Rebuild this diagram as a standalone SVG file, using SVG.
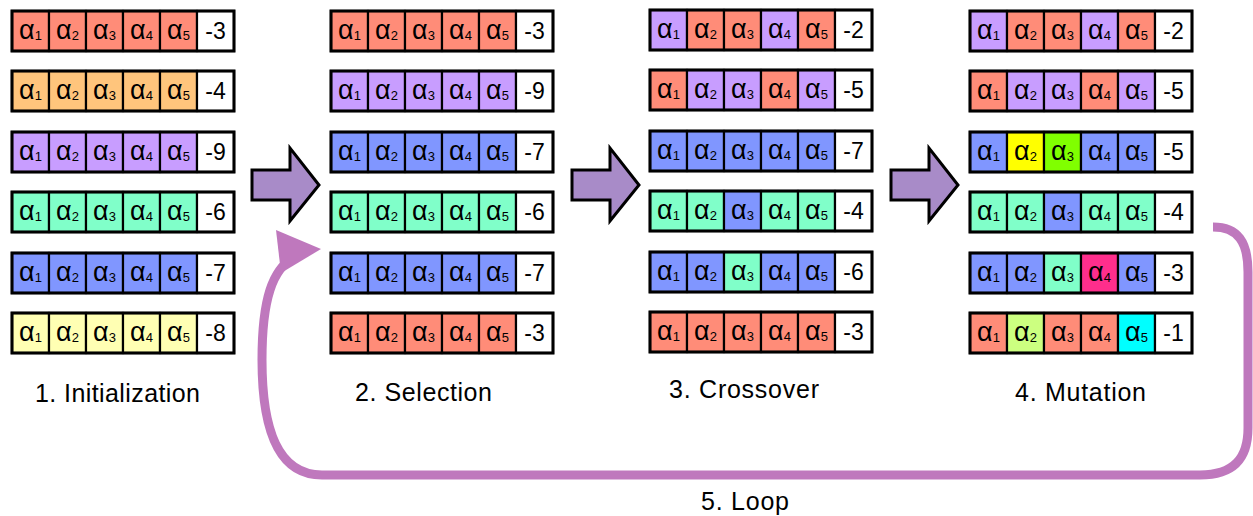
<svg xmlns="http://www.w3.org/2000/svg" width="1253" height="516" viewBox="0 0 1253 516">
<style>
.k{stroke:#000;stroke-width:2.2}
.f{fill:none;stroke:#000;stroke-width:3}
.s{fill:#FF8C78}.o{fill:#FFC57C}.p{fill:#C89DFF}.g{fill:#80FFC9}.bl{fill:#8096FF}.y{fill:#FFFFB3}.w{fill:#FFFFFF}
.m1{fill:#FFFF00}.m2{fill:#80FF00}.m3{fill:#FF2E8C}.m4{fill:#CCFF80}.m5{fill:#00FFFF}
text{font-family:"Liberation Sans",Arial,sans-serif;fill:#000}
.a{font-size:27px;text-anchor:middle}
.b{font-size:13px}
.n{font-size:23px;text-anchor:middle}
.lbl{font-size:25px;text-anchor:middle}
.blk{fill:#A88BC8;stroke:#000;stroke-width:3;stroke-linejoin:miter}
.loop{fill:none;stroke:#BF78BD;stroke-width:9}
.head{fill:#BF78BD}
</style>

<!-- Column 1 -->
<g id="c1r1" transform="translate(12,11)">
<rect class="k s" x="0" y="0" width="37" height="40"/><rect class="k s" x="37" y="0" width="37" height="40"/><rect class="k s" x="74" y="0" width="37" height="40"/><rect class="k s" x="111" y="0" width="37" height="40"/><rect class="k s" x="148" y="0" width="37" height="40"/><rect class="k w" x="185" y="0" width="37" height="40"/><rect class="f" x="0" y="0" width="222" height="40"/>
<text class="a" x="18.5" y="27.5">α<tspan class="b" dy="1">1</tspan></text><text class="a" x="55.5" y="27.5">α<tspan class="b" dy="1">2</tspan></text><text class="a" x="92.5" y="27.5">α<tspan class="b" dy="1">3</tspan></text><text class="a" x="129.5" y="27.5">α<tspan class="b" dy="1">4</tspan></text><text class="a" x="166.5" y="27.5">α<tspan class="b" dy="1">5</tspan></text><text class="n" x="203.5" y="28">-3</text>
</g>
<g id="c1r2" transform="translate(12,71)">
<rect class="k o" x="0" y="0" width="37" height="40"/><rect class="k o" x="37" y="0" width="37" height="40"/><rect class="k o" x="74" y="0" width="37" height="40"/><rect class="k o" x="111" y="0" width="37" height="40"/><rect class="k o" x="148" y="0" width="37" height="40"/><rect class="k w" x="185" y="0" width="37" height="40"/><rect class="f" x="0" y="0" width="222" height="40"/>
<text class="a" x="18.5" y="27.5">α<tspan class="b" dy="1">1</tspan></text><text class="a" x="55.5" y="27.5">α<tspan class="b" dy="1">2</tspan></text><text class="a" x="92.5" y="27.5">α<tspan class="b" dy="1">3</tspan></text><text class="a" x="129.5" y="27.5">α<tspan class="b" dy="1">4</tspan></text><text class="a" x="166.5" y="27.5">α<tspan class="b" dy="1">5</tspan></text><text class="n" x="203.5" y="28">-4</text>
</g>
<g id="c1r3" transform="translate(12,132)">
<rect class="k p" x="0" y="0" width="37" height="40"/><rect class="k p" x="37" y="0" width="37" height="40"/><rect class="k p" x="74" y="0" width="37" height="40"/><rect class="k p" x="111" y="0" width="37" height="40"/><rect class="k p" x="148" y="0" width="37" height="40"/><rect class="k w" x="185" y="0" width="37" height="40"/><rect class="f" x="0" y="0" width="222" height="40"/>
<text class="a" x="18.5" y="27.5">α<tspan class="b" dy="1">1</tspan></text><text class="a" x="55.5" y="27.5">α<tspan class="b" dy="1">2</tspan></text><text class="a" x="92.5" y="27.5">α<tspan class="b" dy="1">3</tspan></text><text class="a" x="129.5" y="27.5">α<tspan class="b" dy="1">4</tspan></text><text class="a" x="166.5" y="27.5">α<tspan class="b" dy="1">5</tspan></text><text class="n" x="203.5" y="28">-9</text>
</g>
<g id="c1r4" transform="translate(12,192)">
<rect class="k g" x="0" y="0" width="37" height="40"/><rect class="k g" x="37" y="0" width="37" height="40"/><rect class="k g" x="74" y="0" width="37" height="40"/><rect class="k g" x="111" y="0" width="37" height="40"/><rect class="k g" x="148" y="0" width="37" height="40"/><rect class="k w" x="185" y="0" width="37" height="40"/><rect class="f" x="0" y="0" width="222" height="40"/>
<text class="a" x="18.5" y="27.5">α<tspan class="b" dy="1">1</tspan></text><text class="a" x="55.5" y="27.5">α<tspan class="b" dy="1">2</tspan></text><text class="a" x="92.5" y="27.5">α<tspan class="b" dy="1">3</tspan></text><text class="a" x="129.5" y="27.5">α<tspan class="b" dy="1">4</tspan></text><text class="a" x="166.5" y="27.5">α<tspan class="b" dy="1">5</tspan></text><text class="n" x="203.5" y="28">-6</text>
</g>
<g id="c1r5" transform="translate(12,253)">
<rect class="k bl" x="0" y="0" width="37" height="40"/><rect class="k bl" x="37" y="0" width="37" height="40"/><rect class="k bl" x="74" y="0" width="37" height="40"/><rect class="k bl" x="111" y="0" width="37" height="40"/><rect class="k bl" x="148" y="0" width="37" height="40"/><rect class="k w" x="185" y="0" width="37" height="40"/><rect class="f" x="0" y="0" width="222" height="40"/>
<text class="a" x="18.5" y="27.5">α<tspan class="b" dy="1">1</tspan></text><text class="a" x="55.5" y="27.5">α<tspan class="b" dy="1">2</tspan></text><text class="a" x="92.5" y="27.5">α<tspan class="b" dy="1">3</tspan></text><text class="a" x="129.5" y="27.5">α<tspan class="b" dy="1">4</tspan></text><text class="a" x="166.5" y="27.5">α<tspan class="b" dy="1">5</tspan></text><text class="n" x="203.5" y="28">-7</text>
</g>
<g id="c1r6" transform="translate(12,313)">
<rect class="k y" x="0" y="0" width="37" height="40"/><rect class="k y" x="37" y="0" width="37" height="40"/><rect class="k y" x="74" y="0" width="37" height="40"/><rect class="k y" x="111" y="0" width="37" height="40"/><rect class="k y" x="148" y="0" width="37" height="40"/><rect class="k w" x="185" y="0" width="37" height="40"/><rect class="f" x="0" y="0" width="222" height="40"/>
<text class="a" x="18.5" y="27.5">α<tspan class="b" dy="1">1</tspan></text><text class="a" x="55.5" y="27.5">α<tspan class="b" dy="1">2</tspan></text><text class="a" x="92.5" y="27.5">α<tspan class="b" dy="1">3</tspan></text><text class="a" x="129.5" y="27.5">α<tspan class="b" dy="1">4</tspan></text><text class="a" x="166.5" y="27.5">α<tspan class="b" dy="1">5</tspan></text><text class="n" x="203.5" y="28">-8</text>
</g>

<!-- Column 2 -->
<g id="c2r1" transform="translate(331,11)">
<rect class="k s" x="0" y="0" width="37" height="40"/><rect class="k s" x="37" y="0" width="37" height="40"/><rect class="k s" x="74" y="0" width="37" height="40"/><rect class="k s" x="111" y="0" width="37" height="40"/><rect class="k s" x="148" y="0" width="37" height="40"/><rect class="k w" x="185" y="0" width="37" height="40"/><rect class="f" x="0" y="0" width="222" height="40"/>
<text class="a" x="18.5" y="27.5">α<tspan class="b" dy="1">1</tspan></text><text class="a" x="55.5" y="27.5">α<tspan class="b" dy="1">2</tspan></text><text class="a" x="92.5" y="27.5">α<tspan class="b" dy="1">3</tspan></text><text class="a" x="129.5" y="27.5">α<tspan class="b" dy="1">4</tspan></text><text class="a" x="166.5" y="27.5">α<tspan class="b" dy="1">5</tspan></text><text class="n" x="203.5" y="28">-3</text>
</g>
<g id="c2r2" transform="translate(331,71)">
<rect class="k p" x="0" y="0" width="37" height="40"/><rect class="k p" x="37" y="0" width="37" height="40"/><rect class="k p" x="74" y="0" width="37" height="40"/><rect class="k p" x="111" y="0" width="37" height="40"/><rect class="k p" x="148" y="0" width="37" height="40"/><rect class="k w" x="185" y="0" width="37" height="40"/><rect class="f" x="0" y="0" width="222" height="40"/>
<text class="a" x="18.5" y="27.5">α<tspan class="b" dy="1">1</tspan></text><text class="a" x="55.5" y="27.5">α<tspan class="b" dy="1">2</tspan></text><text class="a" x="92.5" y="27.5">α<tspan class="b" dy="1">3</tspan></text><text class="a" x="129.5" y="27.5">α<tspan class="b" dy="1">4</tspan></text><text class="a" x="166.5" y="27.5">α<tspan class="b" dy="1">5</tspan></text><text class="n" x="203.5" y="28">-9</text>
</g>
<g id="c2r3" transform="translate(331,132)">
<rect class="k bl" x="0" y="0" width="37" height="40"/><rect class="k bl" x="37" y="0" width="37" height="40"/><rect class="k bl" x="74" y="0" width="37" height="40"/><rect class="k bl" x="111" y="0" width="37" height="40"/><rect class="k bl" x="148" y="0" width="37" height="40"/><rect class="k w" x="185" y="0" width="37" height="40"/><rect class="f" x="0" y="0" width="222" height="40"/>
<text class="a" x="18.5" y="27.5">α<tspan class="b" dy="1">1</tspan></text><text class="a" x="55.5" y="27.5">α<tspan class="b" dy="1">2</tspan></text><text class="a" x="92.5" y="27.5">α<tspan class="b" dy="1">3</tspan></text><text class="a" x="129.5" y="27.5">α<tspan class="b" dy="1">4</tspan></text><text class="a" x="166.5" y="27.5">α<tspan class="b" dy="1">5</tspan></text><text class="n" x="203.5" y="28">-7</text>
</g>
<g id="c2r4" transform="translate(331,192)">
<rect class="k g" x="0" y="0" width="37" height="40"/><rect class="k g" x="37" y="0" width="37" height="40"/><rect class="k g" x="74" y="0" width="37" height="40"/><rect class="k g" x="111" y="0" width="37" height="40"/><rect class="k g" x="148" y="0" width="37" height="40"/><rect class="k w" x="185" y="0" width="37" height="40"/><rect class="f" x="0" y="0" width="222" height="40"/>
<text class="a" x="18.5" y="27.5">α<tspan class="b" dy="1">1</tspan></text><text class="a" x="55.5" y="27.5">α<tspan class="b" dy="1">2</tspan></text><text class="a" x="92.5" y="27.5">α<tspan class="b" dy="1">3</tspan></text><text class="a" x="129.5" y="27.5">α<tspan class="b" dy="1">4</tspan></text><text class="a" x="166.5" y="27.5">α<tspan class="b" dy="1">5</tspan></text><text class="n" x="203.5" y="28">-6</text>
</g>
<g id="c2r5" transform="translate(331,253)">
<rect class="k bl" x="0" y="0" width="37" height="40"/><rect class="k bl" x="37" y="0" width="37" height="40"/><rect class="k bl" x="74" y="0" width="37" height="40"/><rect class="k bl" x="111" y="0" width="37" height="40"/><rect class="k bl" x="148" y="0" width="37" height="40"/><rect class="k w" x="185" y="0" width="37" height="40"/><rect class="f" x="0" y="0" width="222" height="40"/>
<text class="a" x="18.5" y="27.5">α<tspan class="b" dy="1">1</tspan></text><text class="a" x="55.5" y="27.5">α<tspan class="b" dy="1">2</tspan></text><text class="a" x="92.5" y="27.5">α<tspan class="b" dy="1">3</tspan></text><text class="a" x="129.5" y="27.5">α<tspan class="b" dy="1">4</tspan></text><text class="a" x="166.5" y="27.5">α<tspan class="b" dy="1">5</tspan></text><text class="n" x="203.5" y="28">-7</text>
</g>
<g id="c2r6" transform="translate(331,313)">
<rect class="k s" x="0" y="0" width="37" height="40"/><rect class="k s" x="37" y="0" width="37" height="40"/><rect class="k s" x="74" y="0" width="37" height="40"/><rect class="k s" x="111" y="0" width="37" height="40"/><rect class="k s" x="148" y="0" width="37" height="40"/><rect class="k w" x="185" y="0" width="37" height="40"/><rect class="f" x="0" y="0" width="222" height="40"/>
<text class="a" x="18.5" y="27.5">α<tspan class="b" dy="1">1</tspan></text><text class="a" x="55.5" y="27.5">α<tspan class="b" dy="1">2</tspan></text><text class="a" x="92.5" y="27.5">α<tspan class="b" dy="1">3</tspan></text><text class="a" x="129.5" y="27.5">α<tspan class="b" dy="1">4</tspan></text><text class="a" x="166.5" y="27.5">α<tspan class="b" dy="1">5</tspan></text><text class="n" x="203.5" y="28">-3</text>
</g>

<!-- Column 3 -->
<g id="c3r1" transform="translate(650,10)">
<rect class="k p" x="0" y="0" width="37" height="40"/><rect class="k s" x="37" y="0" width="37" height="40"/><rect class="k s" x="74" y="0" width="37" height="40"/><rect class="k p" x="111" y="0" width="37" height="40"/><rect class="k s" x="148" y="0" width="37" height="40"/><rect class="k w" x="185" y="0" width="37" height="40"/><rect class="f" x="0" y="0" width="222" height="40"/>
<text class="a" x="18.5" y="27.5">α<tspan class="b" dy="1">1</tspan></text><text class="a" x="55.5" y="27.5">α<tspan class="b" dy="1">2</tspan></text><text class="a" x="92.5" y="27.5">α<tspan class="b" dy="1">3</tspan></text><text class="a" x="129.5" y="27.5">α<tspan class="b" dy="1">4</tspan></text><text class="a" x="166.5" y="27.5">α<tspan class="b" dy="1">5</tspan></text><text class="n" x="203.5" y="28">-2</text>
</g>
<g id="c3r2" transform="translate(650,70)">
<rect class="k s" x="0" y="0" width="37" height="40"/><rect class="k p" x="37" y="0" width="37" height="40"/><rect class="k p" x="74" y="0" width="37" height="40"/><rect class="k s" x="111" y="0" width="37" height="40"/><rect class="k p" x="148" y="0" width="37" height="40"/><rect class="k w" x="185" y="0" width="37" height="40"/><rect class="f" x="0" y="0" width="222" height="40"/>
<text class="a" x="18.5" y="27.5">α<tspan class="b" dy="1">1</tspan></text><text class="a" x="55.5" y="27.5">α<tspan class="b" dy="1">2</tspan></text><text class="a" x="92.5" y="27.5">α<tspan class="b" dy="1">3</tspan></text><text class="a" x="129.5" y="27.5">α<tspan class="b" dy="1">4</tspan></text><text class="a" x="166.5" y="27.5">α<tspan class="b" dy="1">5</tspan></text><text class="n" x="203.5" y="28">-5</text>
</g>
<g id="c3r3" transform="translate(650,131)">
<rect class="k bl" x="0" y="0" width="37" height="40"/><rect class="k bl" x="37" y="0" width="37" height="40"/><rect class="k bl" x="74" y="0" width="37" height="40"/><rect class="k bl" x="111" y="0" width="37" height="40"/><rect class="k bl" x="148" y="0" width="37" height="40"/><rect class="k w" x="185" y="0" width="37" height="40"/><rect class="f" x="0" y="0" width="222" height="40"/>
<text class="a" x="18.5" y="27.5">α<tspan class="b" dy="1">1</tspan></text><text class="a" x="55.5" y="27.5">α<tspan class="b" dy="1">2</tspan></text><text class="a" x="92.5" y="27.5">α<tspan class="b" dy="1">3</tspan></text><text class="a" x="129.5" y="27.5">α<tspan class="b" dy="1">4</tspan></text><text class="a" x="166.5" y="27.5">α<tspan class="b" dy="1">5</tspan></text><text class="n" x="203.5" y="28">-7</text>
</g>
<g id="c3r4" transform="translate(650,191)">
<rect class="k g" x="0" y="0" width="37" height="40"/><rect class="k g" x="37" y="0" width="37" height="40"/><rect class="k bl" x="74" y="0" width="37" height="40"/><rect class="k g" x="111" y="0" width="37" height="40"/><rect class="k g" x="148" y="0" width="37" height="40"/><rect class="k w" x="185" y="0" width="37" height="40"/><rect class="f" x="0" y="0" width="222" height="40"/>
<text class="a" x="18.5" y="27.5">α<tspan class="b" dy="1">1</tspan></text><text class="a" x="55.5" y="27.5">α<tspan class="b" dy="1">2</tspan></text><text class="a" x="92.5" y="27.5">α<tspan class="b" dy="1">3</tspan></text><text class="a" x="129.5" y="27.5">α<tspan class="b" dy="1">4</tspan></text><text class="a" x="166.5" y="27.5">α<tspan class="b" dy="1">5</tspan></text><text class="n" x="203.5" y="28">-4</text>
</g>
<g id="c3r5" transform="translate(650,252)">
<rect class="k bl" x="0" y="0" width="37" height="40"/><rect class="k bl" x="37" y="0" width="37" height="40"/><rect class="k g" x="74" y="0" width="37" height="40"/><rect class="k bl" x="111" y="0" width="37" height="40"/><rect class="k bl" x="148" y="0" width="37" height="40"/><rect class="k w" x="185" y="0" width="37" height="40"/><rect class="f" x="0" y="0" width="222" height="40"/>
<text class="a" x="18.5" y="27.5">α<tspan class="b" dy="1">1</tspan></text><text class="a" x="55.5" y="27.5">α<tspan class="b" dy="1">2</tspan></text><text class="a" x="92.5" y="27.5">α<tspan class="b" dy="1">3</tspan></text><text class="a" x="129.5" y="27.5">α<tspan class="b" dy="1">4</tspan></text><text class="a" x="166.5" y="27.5">α<tspan class="b" dy="1">5</tspan></text><text class="n" x="203.5" y="28">-6</text>
</g>
<g id="c3r6" transform="translate(650,312)">
<rect class="k s" x="0" y="0" width="37" height="40"/><rect class="k s" x="37" y="0" width="37" height="40"/><rect class="k s" x="74" y="0" width="37" height="40"/><rect class="k s" x="111" y="0" width="37" height="40"/><rect class="k s" x="148" y="0" width="37" height="40"/><rect class="k w" x="185" y="0" width="37" height="40"/><rect class="f" x="0" y="0" width="222" height="40"/>
<text class="a" x="18.5" y="27.5">α<tspan class="b" dy="1">1</tspan></text><text class="a" x="55.5" y="27.5">α<tspan class="b" dy="1">2</tspan></text><text class="a" x="92.5" y="27.5">α<tspan class="b" dy="1">3</tspan></text><text class="a" x="129.5" y="27.5">α<tspan class="b" dy="1">4</tspan></text><text class="a" x="166.5" y="27.5">α<tspan class="b" dy="1">5</tspan></text><text class="n" x="203.5" y="28">-3</text>
</g>

<!-- Column 4 -->
<g id="c4r1" transform="translate(970,11)">
<rect class="k p" x="0" y="0" width="37" height="40"/><rect class="k s" x="37" y="0" width="37" height="40"/><rect class="k s" x="74" y="0" width="37" height="40"/><rect class="k p" x="111" y="0" width="37" height="40"/><rect class="k s" x="148" y="0" width="37" height="40"/><rect class="k w" x="185" y="0" width="37" height="40"/><rect class="f" x="0" y="0" width="222" height="40"/>
<text class="a" x="18.5" y="27.5">α<tspan class="b" dy="1">1</tspan></text><text class="a" x="55.5" y="27.5">α<tspan class="b" dy="1">2</tspan></text><text class="a" x="92.5" y="27.5">α<tspan class="b" dy="1">3</tspan></text><text class="a" x="129.5" y="27.5">α<tspan class="b" dy="1">4</tspan></text><text class="a" x="166.5" y="27.5">α<tspan class="b" dy="1">5</tspan></text><text class="n" x="203.5" y="28">-2</text>
</g>
<g id="c4r2" transform="translate(970,71)">
<rect class="k s" x="0" y="0" width="37" height="40"/><rect class="k p" x="37" y="0" width="37" height="40"/><rect class="k p" x="74" y="0" width="37" height="40"/><rect class="k s" x="111" y="0" width="37" height="40"/><rect class="k p" x="148" y="0" width="37" height="40"/><rect class="k w" x="185" y="0" width="37" height="40"/><rect class="f" x="0" y="0" width="222" height="40"/>
<text class="a" x="18.5" y="27.5">α<tspan class="b" dy="1">1</tspan></text><text class="a" x="55.5" y="27.5">α<tspan class="b" dy="1">2</tspan></text><text class="a" x="92.5" y="27.5">α<tspan class="b" dy="1">3</tspan></text><text class="a" x="129.5" y="27.5">α<tspan class="b" dy="1">4</tspan></text><text class="a" x="166.5" y="27.5">α<tspan class="b" dy="1">5</tspan></text><text class="n" x="203.5" y="28">-5</text>
</g>
<g id="c4r3" transform="translate(970,132)">
<rect class="k bl" x="0" y="0" width="37" height="40"/><rect class="k m1" x="37" y="0" width="37" height="40"/><rect class="k m2" x="74" y="0" width="37" height="40"/><rect class="k bl" x="111" y="0" width="37" height="40"/><rect class="k bl" x="148" y="0" width="37" height="40"/><rect class="k w" x="185" y="0" width="37" height="40"/><rect class="f" x="0" y="0" width="222" height="40"/>
<text class="a" x="18.5" y="27.5">α<tspan class="b" dy="1">1</tspan></text><text class="a" x="55.5" y="27.5">α<tspan class="b" dy="1">2</tspan></text><text class="a" x="92.5" y="27.5">α<tspan class="b" dy="1">3</tspan></text><text class="a" x="129.5" y="27.5">α<tspan class="b" dy="1">4</tspan></text><text class="a" x="166.5" y="27.5">α<tspan class="b" dy="1">5</tspan></text><text class="n" x="203.5" y="28">-5</text>
</g>
<g id="c4r4" transform="translate(970,192)">
<rect class="k g" x="0" y="0" width="37" height="40"/><rect class="k g" x="37" y="0" width="37" height="40"/><rect class="k bl" x="74" y="0" width="37" height="40"/><rect class="k g" x="111" y="0" width="37" height="40"/><rect class="k g" x="148" y="0" width="37" height="40"/><rect class="k w" x="185" y="0" width="37" height="40"/><rect class="f" x="0" y="0" width="222" height="40"/>
<text class="a" x="18.5" y="27.5">α<tspan class="b" dy="1">1</tspan></text><text class="a" x="55.5" y="27.5">α<tspan class="b" dy="1">2</tspan></text><text class="a" x="92.5" y="27.5">α<tspan class="b" dy="1">3</tspan></text><text class="a" x="129.5" y="27.5">α<tspan class="b" dy="1">4</tspan></text><text class="a" x="166.5" y="27.5">α<tspan class="b" dy="1">5</tspan></text><text class="n" x="203.5" y="28">-4</text>
</g>
<g id="c4r5" transform="translate(970,253)">
<rect class="k bl" x="0" y="0" width="37" height="40"/><rect class="k bl" x="37" y="0" width="37" height="40"/><rect class="k g" x="74" y="0" width="37" height="40"/><rect class="k m3" x="111" y="0" width="37" height="40"/><rect class="k bl" x="148" y="0" width="37" height="40"/><rect class="k w" x="185" y="0" width="37" height="40"/><rect class="f" x="0" y="0" width="222" height="40"/>
<text class="a" x="18.5" y="27.5">α<tspan class="b" dy="1">1</tspan></text><text class="a" x="55.5" y="27.5">α<tspan class="b" dy="1">2</tspan></text><text class="a" x="92.5" y="27.5">α<tspan class="b" dy="1">3</tspan></text><text class="a" x="129.5" y="27.5">α<tspan class="b" dy="1">4</tspan></text><text class="a" x="166.5" y="27.5">α<tspan class="b" dy="1">5</tspan></text><text class="n" x="203.5" y="28">-3</text>
</g>
<g id="c4r6" transform="translate(970,313)">
<rect class="k s" x="0" y="0" width="37" height="40"/><rect class="k m4" x="37" y="0" width="37" height="40"/><rect class="k s" x="74" y="0" width="37" height="40"/><rect class="k s" x="111" y="0" width="37" height="40"/><rect class="k m5" x="148" y="0" width="37" height="40"/><rect class="k w" x="185" y="0" width="37" height="40"/><rect class="f" x="0" y="0" width="222" height="40"/>
<text class="a" x="18.5" y="27.5">α<tspan class="b" dy="1">1</tspan></text><text class="a" x="55.5" y="27.5">α<tspan class="b" dy="1">2</tspan></text><text class="a" x="92.5" y="27.5">α<tspan class="b" dy="1">3</tspan></text><text class="a" x="129.5" y="27.5">α<tspan class="b" dy="1">4</tspan></text><text class="a" x="166.5" y="27.5">α<tspan class="b" dy="1">5</tspan></text><text class="n" x="203.5" y="28">-1</text>
</g>

<!-- Stage labels -->
<g id="labels">
<text class="lbl" x="117.5" y="401.5" textLength="165" lengthAdjust="spacing">1. Initialization</text>
<text class="lbl" x="423.5" y="401" textLength="137" lengthAdjust="spacing">2. Selection</text>
<text class="lbl" x="744" y="398" textLength="150" lengthAdjust="spacing">3. Crossover</text>
<text class="lbl" x="1080.5" y="401" textLength="131" lengthAdjust="spacing">4. Mutation</text>
<text class="lbl" x="745" y="510" textLength="88" lengthAdjust="spacing">5. Loop</text>
</g>

<!-- Connectors -->
<g id="connectors">
<polygon class="blk" points="252,170 290,170 290,148 319,185 290,221 290,200 252,200"/>
<polygon class="blk" points="572,170 610,170 610,148 639,185 610,221 610,200 572,200"/>
<polygon class="blk" points="891,170 929,170 929,148 958,185 929,221 929,200 891,200"/>
<path class="loop" d="M1213,227 C1238,227 1248,242 1248,272 L1248,428 C1248,458 1234,475 1200,475 L322,475 C278,475 262,430 262,360 C262,300 272,268 296,256"/>
<polygon class="head" points="276,230 321,249 281,273"/>
</g>
</svg>
